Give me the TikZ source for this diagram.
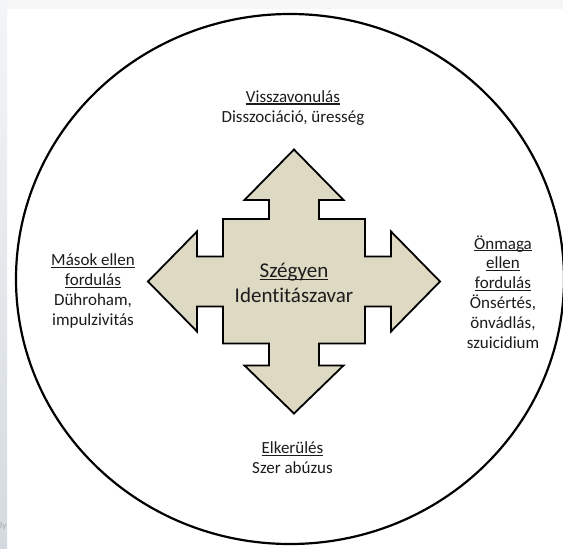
\documentclass[tikz,border=0pt]{standalone}
\usepackage{fontspec}
\setmainfont{Carlito}[Ligatures=NoCommon]
\newcommand{\myul}[1]{\leavevmode\setbox0\hbox{#1}\rlap{\rule[-0.14em]{\wd0}{0.07em}}\box0}
\definecolor{txt}{RGB}{28,28,28}
\definecolor{tan}{RGB}{221,217,195}
\definecolor{bandtop}{RGB}{246,246,246}
\definecolor{paneltop}{RGB}{244,245,246}
\definecolor{panelbot}{RGB}{212,218,224}
\tikzset{
  lbl/.style={align=center, font=\fontsize{17}{19.8}\selectfont, text=txt, inner sep=0pt},
  mainlbl/.style={align=center, font=\fontsize{21}{25}\selectfont, text=txt, inner sep=0pt},
  quad/.style={fill=tan, draw=black, line width=1.8pt, line join=miter},
  ring/.style={draw=black, line width=2.2pt}
}
\begin{document}
\begin{tikzpicture}[x=1pt,y=-1pt]
\useasboundingbox (0,0) rectangle (563,549);
\clip (0,0) rectangle (563,549);
\fill[white] (0,0) rectangle (563,549);
\fill[bandtop] (0,0) rectangle (563,9);
\shade[top color=paneltop, bottom color=panelbot] (0,0) rectangle (7,549);
\node[anchor=base west, font=\fontsize{9}{10}\selectfont, text=gray!70, inner sep=0pt] (frag) at (0,528) {ly};
% outer ring
\draw[ring] (290,279) ellipse [x radius=274, y radius=265];
% four-way arrow
\draw[quad] (294,149.5) -- (343.5,200) -- (319,200) -- (319,219) -- (365,219) -- (365,256.5)
  -- (391,256.5) -- (391,231.5) -- (440,281.5) -- (391,331.5) -- (391,306.5) -- (365,306.5)
  -- (365,343.5) -- (319,343.5) -- (319,365.5) -- (343.5,365.5) -- (294,413.5) -- (244.5,365.5)
  -- (269,365.5) -- (269,343.5) -- (223,343.5) -- (223,306.5) -- (197,306.5) -- (197,331.5)
  -- (148,281.5) -- (197,231.5) -- (197,256.5) -- (223,256.5) -- (223,219) -- (269,219)
  -- (269,200) -- (244.5,200) -- cycle;
\node[mainlbl, anchor=base] (core) at (294,302.5) {\myul{Szégyen}\\Identitászavar};
\node[lbl, anchor=base] (top) at (293,122) {\myul{Visszavonulás}\\Disszociáció, üresség};
\node[lbl, anchor=base] (bottom) at (292.5,473.5) {\myul{Elkerülés}\\Szer abúzus};
\node[lbl, anchor=base] (left) at (93,325) {\myul{Mások ellen}\\\myul{fordulás}\\Dühroham,\\impulzivitás};
\node[lbl, anchor=base] (right) at (503,348) {\myul{Önmaga}\\\myul{ellen}\\\myul{fordulás}\\Önsértés,\\önvádlás,\\szuicidium};
\end{tikzpicture}
\end{document}
